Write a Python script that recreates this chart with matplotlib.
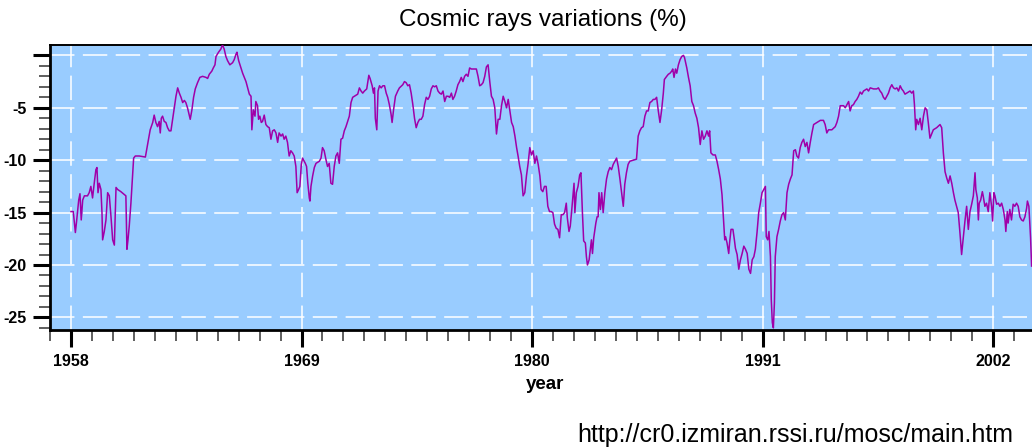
import numpy as np
import matplotlib.pyplot as plt
from matplotlib.ticker import MultipleLocator

plt.rcParams['font.family'] = ['Liberation Sans', 'DejaVu Sans']

# monthly cosmic ray variation (%) relative to base level
years = [
    1958.00, 1958.11, 1958.21, 1958.27, 1958.37, 1958.43, 1958.49, 1958.56, 1958.64, 1958.79,
    1958.87, 1958.95, 1959.03, 1959.11, 1959.19, 1959.24, 1959.29, 1959.35, 1959.43, 1959.48,
    1959.51, 1959.59, 1959.67, 1959.75, 1959.83, 1959.91, 1959.99, 1960.07, 1960.15, 1960.23,
    1960.38, 1960.62, 1960.67, 1960.72, 1960.78, 1960.86, 1960.94, 1960.99, 1961.07, 1961.26,
    1961.55, 1961.61, 1961.70, 1961.78, 1961.90, 1961.97, 1962.05, 1962.13, 1962.21, 1962.26,
    1962.31, 1962.37, 1962.45, 1962.53, 1962.61, 1962.69, 1962.77, 1962.85, 1962.93, 1963.01,
    1963.09, 1963.17, 1963.25, 1963.33, 1963.41, 1963.48, 1963.56, 1963.69, 1963.77, 1963.85,
    1963.93, 1964.04, 1964.15, 1964.28, 1964.44, 1964.52, 1964.60, 1964.72, 1964.79, 1964.87,
    1964.92, 1965.04, 1965.15, 1965.23, 1965.31, 1965.39, 1965.47, 1965.58, 1965.71, 1965.79,
    1965.87, 1965.92, 1966.00, 1966.11, 1966.19, 1966.27, 1966.35, 1966.43, 1966.51, 1966.59,
    1966.63, 1966.70, 1966.78, 1966.82, 1966.90, 1966.95, 1967.01, 1967.08, 1967.14, 1967.22,
    1967.30, 1967.38, 1967.46, 1967.54, 1967.62, 1967.70, 1967.78, 1967.86, 1967.93, 1968.02,
    1968.10, 1968.17, 1968.25, 1968.33, 1968.41, 1968.49, 1968.57, 1968.65, 1968.73, 1968.79,
    1968.86, 1968.92, 1968.99, 1969.05, 1969.18, 1969.24, 1969.30, 1969.37,
    1969.40, 1969.45, 1969.53, 1969.61, 1969.69, 1969.85, 1969.93, 1970.00, 1970.08, 1970.16,
    1970.24, 1970.32, 1970.40, 1970.48, 1970.56, 1970.64, 1970.72, 1970.80, 1970.88, 1970.96,
    1971.04, 1971.12, 1971.20, 1971.28, 1971.36, 1971.44, 1971.52, 1971.68, 1971.76, 1971.84,
    1971.92, 1972.00, 1972.11, 1972.21, 1972.27, 1972.37, 1972.43, 1972.48, 1972.52, 1972.59,
    1972.65, 1972.72, 1972.80, 1972.88, 1972.96, 1973.04, 1973.11, 1973.19, 1973.27, 1973.32,
    1973.39, 1973.48, 1973.59, 1973.67, 1973.83, 1973.91, 1973.99, 1974.07, 1974.15, 1974.23,
    1974.31, 1974.39, 1974.47, 1974.55, 1974.63, 1974.71, 1974.79, 1974.87, 1974.95, 1975.03,
    1975.11, 1975.19, 1975.27, 1975.35, 1975.43, 1975.51, 1975.59, 1975.67, 1975.75, 1975.83,
    1975.91, 1975.99, 1976.07, 1976.15, 1976.22, 1976.30, 1976.38, 1976.46, 1976.54, 1976.62,
    1976.70, 1976.78, 1976.86, 1976.94, 1977.02, 1977.10, 1977.26, 1977.34, 1977.42, 1977.50,
    1977.58, 1977.66, 1977.74, 1977.82, 1977.90, 1977.98, 1978.06, 1978.14, 1978.22, 1978.30,
    1978.38, 1978.46, 1978.54, 1978.62, 1978.70, 1978.78, 1978.86, 1978.94, 1979.02, 1979.10,
    1979.18, 1979.26, 1979.33, 1979.41, 1979.49, 1979.57, 1979.65, 1979.73, 1979.81, 1979.89,
    1979.97, 1980.05, 1980.13, 1980.21, 1980.29, 1980.37,
    1980.43, 1980.51, 1980.59, 1980.67, 1980.75, 1980.83, 1980.91, 1980.99, 1981.07, 1981.15,
    1981.23, 1981.31, 1981.39, 1981.47, 1981.55, 1981.63, 1981.68, 1981.76, 1981.82, 1981.88,
    1981.95, 1982.00, 1982.04, 1982.11, 1982.19, 1982.27, 1982.33, 1982.40, 1982.46, 1982.54,
    1982.59, 1982.64, 1982.72, 1982.78, 1982.83, 1982.88, 1982.94, 1983.04, 1983.10, 1983.15,
    1983.19, 1983.26, 1983.32, 1983.39, 1983.47, 1983.55, 1983.63, 1983.71, 1983.79, 1983.87,
    1983.95, 1984.03, 1984.11, 1984.19, 1984.27, 1984.35, 1984.42, 1984.50, 1984.58, 1984.66,
    1984.82, 1984.98, 1985.06, 1985.14, 1985.22, 1985.30, 1985.38, 1985.46, 1985.54, 1985.62,
    1985.70, 1985.78, 1985.86, 1985.94, 1986.02, 1986.10, 1986.18, 1986.26, 1986.31, 1986.42,
    1986.50, 1986.58, 1986.66, 1986.71, 1986.77, 1986.84, 1986.90, 1986.98, 1987.06, 1987.14,
    1987.22, 1987.27, 1987.38, 1987.46, 1987.54, 1987.62, 1987.70, 1987.78, 1987.86, 1987.94,
    1988.02, 1988.10, 1988.18, 1988.26, 1988.34, 1988.42, 1988.47, 1988.53, 1988.63, 1988.74,
    1988.82, 1988.90, 1988.98, 1989.06, 1989.14, 1989.19, 1989.23, 1989.30, 1989.38, 1989.42,
    1989.49, 1989.58, 1989.65, 1989.70, 1989.78, 1989.86, 1989.94, 1990.02, 1990.10, 1990.18,
    1990.26, 1990.34, 1990.42, 1990.50, 1990.58, 1990.65, 1990.73, 1990.81, 1990.89,
    1990.97, 1991.05, 1991.13, 1991.17, 1991.24, 1991.30, 1991.37, 1991.41, 1991.46, 1991.51,
    1991.56, 1991.60, 1991.68, 1991.76, 1991.84, 1991.92, 1992.00, 1992.08, 1992.16, 1992.24,
    1992.32, 1992.40, 1992.48, 1992.56, 1992.63, 1992.71, 1992.79, 1992.87, 1992.95, 1993.03,
    1993.11, 1993.19, 1993.27, 1993.35, 1993.43, 1993.59, 1993.67, 1993.75, 1993.90, 1993.98,
    1994.06, 1994.14, 1994.30, 1994.46, 1994.54, 1994.62, 1994.70, 1994.78, 1994.86, 1994.94,
    1995.02, 1995.10, 1995.17, 1995.25, 1995.33, 1995.41, 1995.49, 1995.57, 1995.65, 1995.73,
    1995.81, 1995.89, 1995.97, 1996.05, 1996.13, 1996.29, 1996.44, 1996.52, 1996.60, 1996.68,
    1996.76, 1996.84, 1996.92, 1997.00, 1997.08, 1997.16, 1997.24, 1997.32, 1997.40, 1997.48,
    1997.56, 1997.63, 1997.71, 1997.79, 1997.87, 1998.03, 1998.11, 1998.19, 1998.24, 1998.30,
    1998.35, 1998.43, 1998.51, 1998.59, 1998.67, 1998.75, 1998.83, 1998.90, 1998.98, 1999.06,
    1999.14, 1999.30, 1999.46, 1999.54, 1999.62, 1999.70, 1999.78, 1999.86, 1999.94, 2000.02,
    2000.10, 2000.17, 2000.25, 2000.33, 2000.41, 2000.49, 2000.57, 2000.65, 2000.73, 2000.81,
    2000.89, 2000.97, 2001.05, 2001.13, 2001.17, 2001.24, 2001.29, 2001.33, 2001.40, 2001.48,
    2001.52, 2001.60, 2001.68, 2001.76, 2001.84, 2001.92, 2001.97, 2002.03, 2002.08, 2002.16,
    2002.24, 2002.32, 2002.40, 2002.48, 2002.56, 2002.60, 2002.67, 2002.71, 2002.79, 2002.87,
    2002.95, 2003.03, 2003.11, 2003.19, 2003.27, 2003.35, 2003.43, 2003.51, 2003.59, 2003.63,
    2003.70, 2003.78, 2003.83,
]
variation = [
    -14.9, -14.9, -16.9, -15.8, -13.8, -13.2, -15.7, -13.8, -13.4, -13.4,
    -13.1, -12.5, -13.6, -12.2, -10.9, -10.7, -13.1, -12.2, -12.8, -15.0,
    -17.6, -16.8, -15.7, -13.1, -13.4, -15.4, -17.6, -18.1, -12.6, -12.8,
    -13.0, -13.4, -18.5, -17.6, -16.3, -14.1, -11.5, -9.8, -9.6, -9.6,
    -9.7, -9.0, -8.0, -7.1, -6.4, -5.7, -6.4, -6.8, -6.3, -7.4,
    -6.0, -5.8, -6.3, -6.4, -6.9, -7.2, -7.2, -6.1, -5.0, -3.9,
    -3.1, -3.6, -4.0, -4.5, -4.3, -4.5, -5.0, -6.1, -5.2, -4.0,
    -3.2, -2.6, -2.1, -2.0, -2.1, -2.2, -1.8, -1.5, -1.2, -0.9,
    -0.1, 0.3, 0.6, 1.0, 0.6, -0.1, -0.5, -0.9, -0.7, -0.4,
    0.1, 0.3, -0.5, -1.2, -1.7, -2.1, -2.5, -3.1, -3.7, -3.9,
    -7.1, -5.2, -5.8, -4.4, -4.8, -6.1, -5.8, -6.4, -6.3, -5.7,
    -6.6, -6.8, -6.9, -8.0, -7.2, -7.1, -7.4, -8.3, -7.4, -7.7,
    -7.5, -8.0, -7.7, -8.3, -9.6, -9.1, -9.3, -9.6, -10.6, -13.1,
    -12.8, -12.5, -10.4, -9.8, -10.3, -10.6, -12.2, -13.6,
    -13.9, -12.5, -11.5, -10.7, -10.3, -10.1, -9.8, -8.8, -9.1, -9.9,
    -10.6, -10.3, -12.2, -12.3, -10.6, -9.6, -9.3, -10.3, -8.0, -7.9,
    -7.2, -6.8, -6.3, -5.8, -4.5, -4.0, -3.9, -3.7, -3.1, -3.4,
    -3.6, -3.4, -3.2, -1.9, -2.2, -2.9, -3.6, -3.1, -6.0, -7.1,
    -3.4, -2.9, -3.1, -2.9, -2.9, -3.6, -4.0, -4.7, -5.6, -6.4,
    -5.2, -3.9, -3.4, -3.1, -2.8, -2.5, -2.6, -2.9, -2.8, -3.6,
    -4.7, -6.0, -6.9, -6.4, -6.1, -6.1, -5.8, -4.7, -4.0, -4.2,
    -3.9, -3.2, -2.9, -3.0, -2.9, -3.4, -3.6, -3.7, -3.4, -4.4,
    -3.9, -3.9, -4.0, -3.6, -4.2, -3.9, -3.4, -2.8, -2.5, -2.1,
    -2.5, -2.0, -1.8, -2.0, -1.2, -1.3, -1.3, -1.3, -2.0, -2.9,
    -2.8, -2.6, -2.0, -1.1, -0.9, -2.5, -3.9, -4.2, -5.0, -7.5,
    -6.1, -6.1, -4.8, -3.9, -4.4, -5.0, -4.2, -5.3, -6.4, -6.8,
    -7.7, -8.8, -9.6, -10.6, -11.4, -13.4, -13.1, -11.5, -10.3, -8.8,
    -9.5, -9.1, -10.3, -9.6, -10.4, -11.5,
    -12.8, -13.0, -12.5, -12.5, -14.4, -14.9, -14.9, -15.0, -16.1, -16.5,
    -16.6, -17.4, -15.2, -15.2, -15.0, -14.1, -15.5, -16.8, -16.3, -15.0,
    -13.3, -12.2, -15.0, -13.1, -12.5, -11.4, -11.2, -15.0, -17.7, -17.9,
    -19.2, -20.0, -19.5, -18.5, -17.6, -18.9, -17.4, -16.0, -15.4, -15.4,
    -13.1, -14.7, -13.1, -15.0, -13.1, -11.8, -11.1, -10.7, -10.9, -10.4,
    -10.1, -9.8, -10.6, -11.8, -13.1, -14.4, -12.3, -11.2, -10.4, -10.1,
    -10.0, -9.9, -7.7, -7.2, -6.9, -6.8, -5.8, -5.3, -5.3, -4.5,
    -4.4, -4.2, -4.2, -4.0, -5.3, -6.4, -5.2, -3.6, -2.3, -2.0,
    -1.8, -1.7, -1.5, -1.3, -2.1, -1.3, -1.7, -0.9, -0.4, -0.1,
    0.0, -0.2, -1.2, -2.1, -2.9, -4.4, -4.8, -5.5, -6.0, -6.9,
    -8.5, -7.2, -8.0, -7.7, -7.2, -7.7, -7.2, -9.3, -9.5, -9.5,
    -10.1, -10.9, -11.8, -13.3, -16.0, -17.6, -17.3, -17.9, -18.9, -17.9,
    -16.6, -16.6, -17.6, -18.4, -19.0, -20.4, -19.5, -18.9, -18.2, -18.5,
    -18.9, -20.4, -20.8, -19.5, -19.2, -18.5, -16.9, -15.0, -14.1,
    -13.1, -12.8, -12.5, -17.3, -17.6, -16.8, -19.2, -23.3, -25.5, -26.0,
    -23.6, -19.2, -17.3, -16.6, -15.8, -15.2, -15.0, -15.7, -13.1, -12.3,
    -11.8, -11.4, -9.1, -9.0, -9.6, -9.8, -8.8, -8.3, -8.0, -8.7,
    -8.3, -9.3, -8.3, -7.4, -6.6, -6.4, -6.3, -6.2, -6.2, -6.6,
    -7.4, -7.1, -7.1, -6.8, -6.4, -5.8, -4.8, -4.8, -4.8, -5.0,
    -4.7, -4.4, -5.3, -4.8, -4.7, -4.4, -4.2, -3.9, -3.5, -3.7,
    -3.4, -3.3, -3.2, -3.4, -3.1, -3.2, -3.2, -3.1, -3.4, -3.6,
    -4.0, -4.2, -3.9, -3.6, -3.1, -2.8, -3.1, -3.2, -3.1, -3.4,
    -2.9, -3.2, -3.4, -3.7, -3.6, -3.4, -3.6, -3.4, -4.7, -7.1,
    -6.1, -6.6, -6.0, -7.1, -5.8, -5.0, -5.2, -6.4, -7.9, -7.5,
    -7.1, -6.9, -6.6, -6.9, -9.3, -11.1, -11.7, -12.2, -11.5, -12.2,
    -13.1, -13.8, -14.4, -15.0, -16.9, -19.0, -17.4, -15.8, -14.4, -16.6,
    -14.9, -14.2, -13.4, -11.2, -12.8, -13.6, -15.7, -14.1, -13.8, -13.0,
    -13.4, -14.4, -14.1, -14.9, -13.1, -14.4, -15.8, -13.1, -13.4, -14.2,
    -14.1, -14.4, -14.1, -14.7, -15.7, -16.8, -14.9, -16.0, -14.7, -15.7,
    -14.2, -14.4, -14.1, -14.4, -15.4, -15.7, -15.8, -15.4, -14.6, -13.9,
    -14.4, -17.4, -20.1,
]

year_ticks = [1958, 1969, 1980, 1991, 2002]
value_ticks = [0, -5, -10, -15, -20, -25]
value_labels = ['', '-5', '-10', '-15', '-20', '-25']

fig = plt.figure(figsize=(10.32, 4.48), dpi=100)
ax = fig.add_axes([50 / 1032, 118 / 448, 990 / 1032, 285 / 448])
ax.set_facecolor('#99ccff')

ax.plot(years, variation, color='#a000a8', lw=1.1, zorder=3)

ax.set_xlim(1957.0, 2004.23)
ax.set_ylim(-26.2, 0.99)

ax.set_xticks(year_ticks)
ax.set_xticklabels([str(y) for y in year_ticks])
ax.xaxis.set_minor_locator(MultipleLocator(1))
ax.set_yticks(value_ticks)
ax.set_yticklabels(value_labels)
ax.yaxis.set_minor_locator(MultipleLocator(1))

ax.tick_params(which='major', length=12.5, width=2.2, color='black',
               labelsize=11.5, pad=4.5)
ax.tick_params(which='minor', length=8, width=1.1, color='#333333')
for lab in ax.get_xticklabels() + ax.get_yticklabels():
    lab.set_fontweight('bold')

ax.grid(True, which='major', color='white', lw=1.1, ls=(0, (16, 5.5)), zorder=1)

for side in ['left', 'bottom']:
    ax.spines[side].set_linewidth(2.0)
ax.spines['top'].set_linewidth(1.4)
ax.spines['right'].set_visible(False)

ax.set_xlabel('year', fontsize=13.5, fontweight='bold')
ax.xaxis.set_label_coords((545 - 50) / 990, -0.163)

fig.text(543 / 1032, 1 - 20 / 448, 'Cosmic rays variations (%)',
         ha='center', va='center', fontsize=17.5)
fig.text(1013 / 1032, 1 - 435 / 448, 'http://cr0.izmiran.rssi.ru/mosc/main.htm',
         ha='right', va='center', fontsize=18)

fig.savefig('out.png', dpi=100)
